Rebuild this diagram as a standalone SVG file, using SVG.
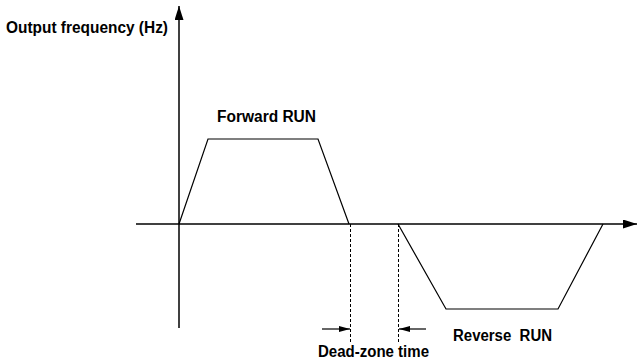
<svg xmlns="http://www.w3.org/2000/svg" width="637" height="363" viewBox="0 0 637 363">
<style>
text{font-family:"Liberation Sans",Arial,sans-serif;font-weight:bold;font-size:16px;fill:#000}
.ax{stroke:#000;stroke-width:1.5;fill:none}
.ln{stroke:#000;stroke-width:1.2;fill:none}
.dash{stroke:#000;stroke-width:1;stroke-dasharray:3,2;fill:none}
</style>
<defs>
<marker id="ah" viewBox="0 0 10 10" refX="10" refY="5" markerWidth="11" markerHeight="6" orient="auto" markerUnits="userSpaceOnUse" preserveAspectRatio="none">
<path d="M0,0 L10,5 L0,10 z" fill="#000"/>
</marker>
<marker id="big" viewBox="0 0 10 10" refX="10" refY="5" markerWidth="14" markerHeight="9" orient="auto" markerUnits="userSpaceOnUse" preserveAspectRatio="none">
<path d="M0,0 L10,5 L0,10 z" fill="#000"/>
</marker>
</defs>
<g id="connectors">
<line class="ax" x1="179" y1="328" x2="179" y2="6" marker-end="url(#big)"/>
<line class="ax" x1="136" y1="224" x2="637" y2="224" marker-end="url(#big)"/>
<polyline class="ln" points="179,224 208,139 318,139 349,224"/>
<polyline class="ln" points="398,224 446,309 558,309 603,224"/>
<line class="dash" x1="350.5" y1="224" x2="350.5" y2="343"/>
<line class="dash" x1="398.5" y1="224" x2="398.5" y2="343"/>
<line class="ln" x1="322" y1="329" x2="350" y2="329" marker-end="url(#ah)"/>
<line class="ln" x1="426" y1="329" x2="399" y2="329" marker-end="url(#ah)"/>
</g>
<g id="label-y"><text x="6" y="33" textLength="162" lengthAdjust="spacingAndGlyphs">Output frequency (Hz)</text></g>
<g id="label-forward"><text x="217" y="122" textLength="99" lengthAdjust="spacingAndGlyphs">Forward RUN</text></g>
<g id="label-reverse"><text x="453" y="341" textLength="99" lengthAdjust="spacingAndGlyphs" xml:space="preserve">Reverse  RUN</text></g>
<g id="label-dead"><text x="318" y="357" textLength="111" lengthAdjust="spacingAndGlyphs">Dead-zone time</text></g>
</svg>
